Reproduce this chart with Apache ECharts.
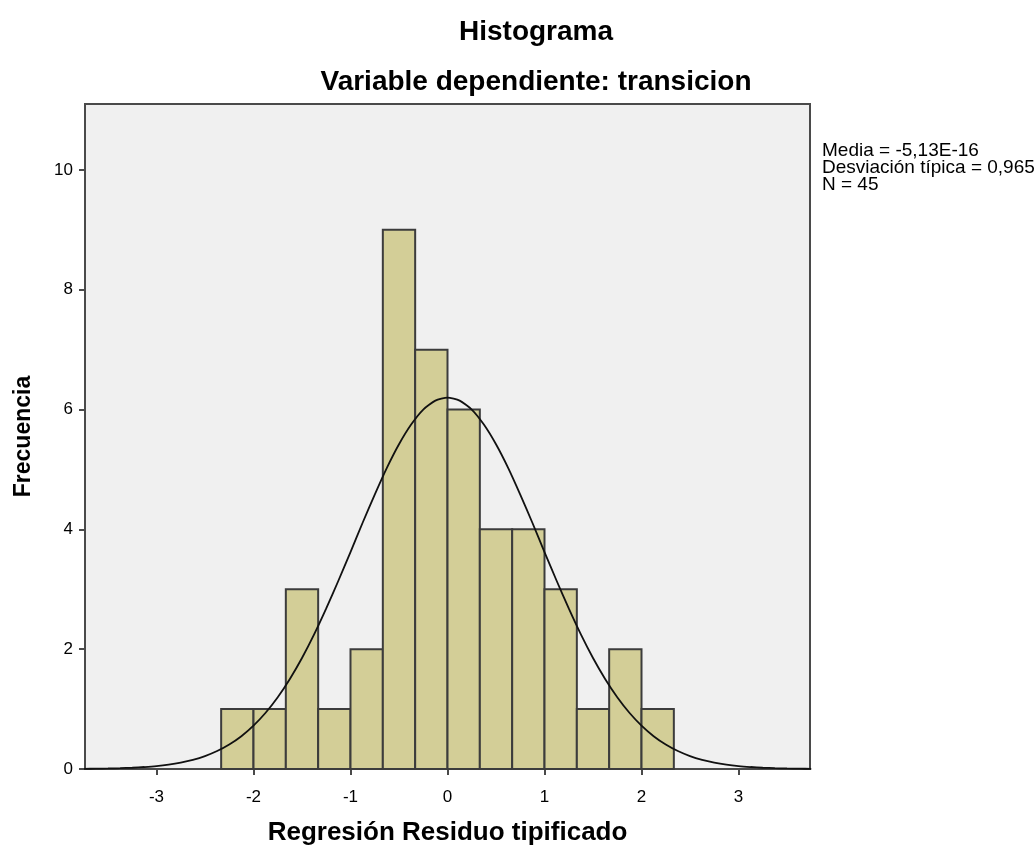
<!DOCTYPE html>
<html><head><meta charset="utf-8">
<script src="https://cdn.jsdelivr.net/npm/echarts@6/dist/echarts.min.js"></script>
<style>html,body{margin:0;padding:0;background:#fff}#c{width:1036px;height:847px}</style>
</head><body><div id="c"></div>
<script>
// Bin edges (left edge of each bin, width 1/3) and counts
const binStarts = [-7/3, -6/3, -5/3, -4/3, -3/3, -2/3, -1/3, 0, 1/3, 2/3, 3/3, 4/3, 5/3, 6/3];
const binWidth = 1/3;
const counts = [1, 1, 3, 1, 2, 9, 7, 6, 4, 4, 3, 1, 2, 1];
// Normal curve
const curveX = [-3.75,-3.625,-3.5,-3.375,-3.25,-3.125,-3,-2.875,-2.75,-2.625,-2.5,-2.375,-2.25,-2.125,-2,-1.875,-1.75,-1.625,-1.5,-1.375,-1.25,-1.125,-1,-0.875,-0.75,-0.625,-0.5,-0.375,-0.25,-0.125,0,0.125,0.25,0.375,0.5,0.625,0.75,0.875,1,1.125,1.25,1.375,1.5,1.625,1.75,1.875,2,2.125,2.25,2.375,2.5,2.625,2.75,2.875,3,3.125,3.25,3.375,3.5,3.625,3.75];
const curveY = [0.003,0.005,0.009,0.014,0.021,0.033,0.049,0.073,0.107,0.153,0.216,0.300,0.409,0.548,0.724,0.939,1.197,1.502,1.852,2.246,2.68,3.142,3.62,4.11,4.58,5.026,5.42,5.749,6.0,6.148,6.2,6.148,6.0,5.749,5.42,5.026,4.58,4.11,3.62,3.142,2.68,2.246,1.852,1.502,1.197,0.939,0.724,0.548,0.409,0.300,0.216,0.153,0.107,0.073,0.049,0.033,0.021,0.014,0.009,0.005,0.003];
const xTicks = [-3,-2,-1,0,1,2,3];
const yTicks = [0,2,4,6,8,10];
const statLines = ['Media = -5,13E-16','Desviación típica = 0,965','N = 45'];

const chart = echarts.init(document.getElementById('c'));
const font = 'Arial, "Liberation Sans", sans-serif';
const axisColor = '#4a4a4a';
chart.setOption({
  animation:false,
  backgroundColor:'#fff',
  title:[
    {text:'Histograma', left:531, top:13, textAlign:'center',
     textStyle:{fontFamily:font,fontSize:28,fontWeight:'bold',color:'#000'}},
    {text:'Variable dependiente: transicion', left:531, top:63, textAlign:'center',
     textStyle:{fontFamily:font,fontSize:28,fontWeight:'bold',color:'#000'}}
  ],
  grid:{left:85, top:104, right:226, bottom:78, outerBoundsMode:'none', containLabel:false,
    show:true, backgroundColor:'#F0F0F0', borderColor:axisColor, borderWidth:2},
  xAxis:{type:'value', min:-3.737, max:3.737,
    axisLine:{show:true, onZero:false, lineStyle:{color:axisColor,width:2}},
    axisTick:{show:true,length:6,customValues:xTicks,lineStyle:{color:axisColor,width:2}},
    splitLine:{show:false},
    axisLabel:{fontFamily:font,fontSize:17,color:'#000',margin:20,customValues:xTicks},
    name:'Regresión Residuo tipificado', nameLocation:'middle', nameGap:51,
    nameTextStyle:{fontFamily:font,fontSize:26,fontWeight:'bold',color:'#000'}
  },
  yAxis:{type:'value', min:0, max:11.1,
    axisLine:{show:true, onZero:false, lineStyle:{color:axisColor,width:2}},
    axisTick:{show:true,length:6,customValues:yTicks,lineStyle:{color:axisColor,width:2}},
    splitLine:{show:false},
    axisLabel:{fontFamily:font,fontSize:17,color:'#000',margin:12,customValues:yTicks},
    name:'Frecuencia', nameLocation:'middle', nameGap:50, nameRotate:90,
    nameTextStyle:{fontFamily:font,fontSize:23,fontWeight:'bold',color:'#000'}
  },
  graphic:[{type:'text', left:822, top:141, style:{text:statLines.join('\n'), font:'19px '+font, fill:'#000', lineHeight:17}}],
  series:[
    {type:'custom', data:binStarts.map((s,i)=>[s, s+binWidth, counts[i]]),
     renderItem:function(params, api){
       const p0 = api.coord([api.value(0), 0]);
       const p1 = api.coord([api.value(1), api.value(2)]);
       return {type:'rect', shape:{x:p0[0], y:p1[1], width:p1[0]-p0[0], height:p0[1]-p1[1]},
         style:{fill:'#D3CE97', stroke:'#3c3c3c', lineWidth:2}};
     }, z:2},
    {type:'line', data:curveX.map((x,i)=>[x,curveY[i]]), smooth:0.2, showSymbol:false,
     lineStyle:{color:'#111',width:1.8}, z:3}
  ]
});
</script></body></html>
